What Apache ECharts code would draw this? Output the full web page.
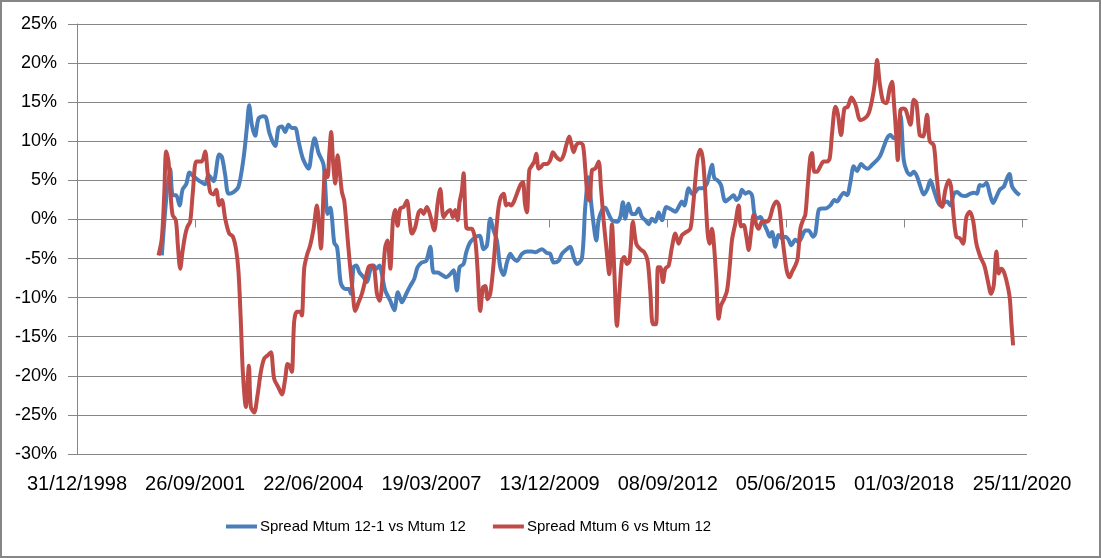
<!DOCTYPE html>
<html>
<head>
<meta charset="utf-8">
<script src="https://cdn.jsdelivr.net/npm/echarts@6/dist/echarts.min.js"></script>
<style>
  html, body { margin: 0; padding: 0; background: #fff; }
  #chart { width: 1101px; height: 558px; }
</style>
</head>
<body>
<div id="chart"></div>
<script>
// ---- data (dates as decimal years, values in %) ----
const seriesNames = ['Spread Mtum 12-1 vs Mtum 12', 'Spread Mtum 6 vs Mtum 12'];

const blueDates = [
2000.962,2001.156,2001.217,2001.295,2001.372,2001.442,2001.527,2001.604,2001.681,2001.813,
2001.967,2002.044,2002.160,2002.292,2002.354,2002.431,2002.508,2002.624,2002.740,2002.856,
2002.933,2002.987,2003.049,2003.126,2003.204,2003.320,2003.381,2003.459,2003.590,2003.667,
2003.745,2003.822,2003.899,2003.976,2004.054,2004.131,2004.231,2004.363,2004.440,2004.502,
2004.595,2004.711,2004.803,2004.865,2004.903,2004.958,2005.019,2005.058,2005.112,2005.213,
2005.290,2005.344,2005.406,2005.468,2005.545,2005.638,2005.715,2005.792,2005.869,2005.931,
2006.009,2006.063,2006.140,2006.256,2006.349,2006.434,2006.526,2006.627,2006.720,2006.812,
2006.890,2006.990,2007.090,2007.183,2007.261,2007.353,2007.431,2007.554,2007.647,2007.724,
2007.801,2007.863,2007.956,2008.018,2008.111,2008.227,2008.327,2008.420,2008.497,2008.574,
2008.650,2008.728,2008.805,2008.882,2008.959,2009.037,2009.114,2009.191,2009.307,2009.423,
2009.539,2009.616,2009.771,2009.887,2009.964,2010.041,2010.157,2010.235,2010.350,2010.428,
2010.505,2010.582,2010.698,2010.775,2010.853,2010.907,2010.969,2011.030,2011.085,2011.162,
2011.239,2011.316,2011.394,2011.510,2011.587,2011.649,2011.703,2011.780,2011.857,2011.935,
2012.012,2012.089,2012.167,2012.244,2012.321,2012.398,2012.476,2012.553,2012.653,2012.761,
2012.862,2012.939,2013.016,2013.070,2013.171,2013.248,2013.325,2013.403,2013.480,2013.596,
2013.658,2013.712,2013.766,2013.843,2013.920,2014.021,2014.121,2014.214,2014.276,2014.353,
2014.407,2014.485,2014.562,2014.639,2014.693,2014.755,2014.832,2014.910,2014.987,2015.049,
2015.103,2015.180,2015.257,2015.335,2015.412,2015.489,2015.551,2015.644,2015.721,2015.798,
2015.876,2015.953,2016.053,2016.108,2016.185,2016.262,2016.339,2016.455,2016.548,2016.610,
2016.687,2016.764,2016.841,2016.919,2016.996,2017.073,2017.166,2017.243,2017.321,2017.421,
2017.537,2017.614,2017.691,2017.769,2017.846,2017.923,2018.001,2018.078,2018.155,2018.232,
2018.310,2018.387,2018.464,2018.542,2018.619,2018.696,2018.773,2018.851,2018.928,2019.005,
2019.083,2019.160,2019.237,2019.314,2019.392,2019.484,2019.585,2019.701,2019.793,2019.855,
2019.917,2019.994,2020.072,2020.149,2020.226,2020.303,2020.381,2020.474,2020.551,2020.605,
2020.667,2020.759,2020.845
];
const blueValues = [
-4.6,6.5,3.1,3.1,1.8,3.8,4.5,6.0,5.6,5.0,
4.5,5.7,4.9,8.3,8.0,5.7,3.3,3.5,4.2,7.8,
11.7,14.6,12.1,10.7,12.9,13.2,13.0,11.0,9.4,11.7,
11.9,11.2,12.1,11.7,11.7,10.0,7.8,6.5,8.9,10.4,
8.5,7.0,0.7,1.5,0.3,-3.0,-3.5,-5.3,-8.2,-8.9,
-8.9,-9.5,-6.1,-5.9,-6.8,-7.4,-8.0,-6.5,-5.9,-6.3,
-5.9,-7.0,-9.1,-10.4,-11.6,-9.3,-10.6,-9.5,-8.5,-7.6,
-6.1,-5.5,-5.3,-3.5,-6.8,-6.8,-7.0,-7.4,-7.0,-6.5,
-9.1,-6.1,-5.7,-4.2,-2.9,-2.3,-2.1,-3.8,-3.3,0.1,
-1.4,-2.7,-6.1,-7.1,-5.5,-4.4,-5.0,-5.3,-4.4,-4.1,
-4.1,-4.2,-3.8,-4.3,-4.4,-5.5,-5.3,-4.4,-3.8,-3.5,
-4.8,-5.7,-5.0,1.6,5.4,2.4,-0.6,-2.7,-0.1,1.2,
1.5,0.7,-0.1,-0.3,0.3,2.2,0.1,2.0,0.7,0.7,
1.4,0.3,-0.1,-0.6,0.1,-0.3,0.9,-0.1,1.6,1.3,
1.0,1.6,2.3,1.8,4.0,3.3,3.5,4.0,4.0,4.6,
5.9,7.0,5.3,5.0,4.4,2.3,2.7,3.1,2.5,2.9,
3.8,3.3,3.5,3.1,0.8,0.1,0.3,-0.5,-1.4,-2.2,
-1.6,-3.5,-2.0,-2.4,-2.2,-2.6,-3.3,-2.6,-2.9,-2.2,
-1.4,-1.4,-2.2,-1.8,1.2,1.4,1.4,1.8,2.5,2.3,
2.9,3.4,3.1,4.8,6.8,6.2,7.1,6.7,6.5,7.0,
7.6,8.2,9.3,10.4,10.8,10.4,10.6,13.4,7.6,6.1,
5.7,6.1,5.5,4.2,3.2,3.8,5.0,3.8,2.5,1.8,
2.1,2.3,1.8,3.2,3.5,3.1,3.0,3.3,3.4,3.3,
4.4,4.3,4.7,3.3,2.1,2.9,3.8,4.2,5.3,5.8,
4.2,3.5,3.1
];

const redDates = [
2000.885,2000.962,2001.017,2001.063,2001.117,2001.156,2001.210,2001.287,2001.333,2001.388,
2001.442,2001.503,2001.558,2001.619,2001.681,2001.758,2001.836,2001.890,2001.967,2002.021,
2002.083,2002.160,2002.222,2002.292,2002.354,2002.431,2002.524,2002.609,2002.686,2002.740,
2002.794,2002.840,2002.910,2002.980,2003.026,2003.103,2003.180,2003.258,2003.335,2003.412,
2003.490,2003.567,2003.667,2003.745,2003.822,2003.876,2003.922,2003.976,2004.030,2004.092,
2004.170,2004.208,2004.262,2004.324,2004.401,2004.479,2004.556,2004.610,2004.649,2004.711,
2004.749,2004.803,2004.842,2004.888,2004.927,2004.981,2005.035,2005.081,2005.135,2005.189,
2005.251,2005.313,2005.383,2005.444,2005.522,2005.599,2005.676,2005.754,2005.831,2005.885,
2005.947,2006.009,2006.086,2006.140,2006.194,2006.256,2006.318,2006.372,2006.426,2006.488,
2006.565,2006.642,2006.704,2006.758,2006.835,2006.913,2006.967,2007.029,2007.106,2007.183,
2007.276,2007.353,2007.415,2007.492,2007.570,2007.647,2007.709,2007.763,2007.817,2007.863,
2007.917,2007.956,2008.018,2008.095,2008.149,2008.227,2008.281,2008.342,2008.404,2008.458,
2008.512,2008.574,2008.650,2008.712,2008.766,2008.820,2008.882,2008.944,2008.998,2009.052,
2009.114,2009.191,2009.269,2009.330,2009.377,2009.423,2009.477,2009.539,2009.593,2009.639,
2009.694,2009.748,2009.809,2009.887,2009.964,2010.026,2010.103,2010.196,2010.273,2010.335,
2010.405,2010.451,2010.505,2010.567,2010.644,2010.721,2010.775,2010.830,2010.876,2010.930,
2011.007,2011.085,2011.139,2011.201,2011.262,2011.332,2011.394,2011.448,2011.510,2011.571,
2011.626,2011.680,2011.741,2011.803,2011.880,2011.958,2012.051,2012.143,2012.221,2012.282,
2012.344,2012.414,2012.460,2012.514,2012.576,2012.630,2012.707,2012.784,2012.862,2012.939,
2013.016,2013.117,2013.210,2013.271,2013.325,2013.380,2013.441,2013.503,2013.557,2013.611,
2013.658,2013.712,2013.766,2013.812,2013.866,2013.920,2013.982,2014.060,2014.121,2014.176,
2014.253,2014.330,2014.384,2014.446,2014.508,2014.562,2014.616,2014.678,2014.740,2014.794,
2014.871,2014.971,2015.049,2015.126,2015.203,2015.265,2015.335,2015.389,2015.451,2015.512,
2015.567,2015.644,2015.698,2015.760,2015.821,2015.876,2015.930,2015.992,2016.030,2016.084,
2016.146,2016.223,2016.301,2016.378,2016.440,2016.494,2016.571,2016.625,2016.703,2016.780,
2016.857,2016.942,2017.035,2017.151,2017.267,2017.344,2017.421,2017.483,2017.537,2017.599,
2017.676,2017.753,2017.831,2017.885,2017.924,2017.978,2018.016,2018.078,2018.140,2018.202,
2018.310,2018.387,2018.449,2018.526,2018.604,2018.696,2018.758,2018.851,2018.913,2018.990,
2019.044,2019.121,2019.198,2019.252,2019.314,2019.376,2019.453,2019.531,2019.608,2019.685,
2019.762,2019.840,2019.933,2020.025,2020.103,2020.180,2020.242,2020.303,2020.358,2020.412,
2020.474,2020.551,2020.613,2020.651,2020.690
];
const redValues = [
-4.6,-2.4,3.1,8.7,7.4,4.0,0.6,-0.1,-3.3,-6.3,
-4.1,-2.0,-0.9,-0.3,3.5,7.4,7.4,7.4,8.7,6.1,
3.5,3.2,3.8,1.8,2.5,0.1,-1.8,-2.2,-3.9,-6.7,
-13.1,-19.5,-24.0,-18.7,-24.0,-24.7,-22.5,-19.5,-17.8,-17.4,
-17.0,-20.4,-21.5,-22.4,-20.4,-18.5,-18.7,-19.5,-13.1,-11.8,
-11.8,-12.3,-6.3,-4.6,-3.3,-1.2,1.8,-1.2,-3.7,3.5,
6.3,5.4,8.4,11.2,7.6,4.6,8.2,6.3,3.5,2.4,
-1.4,-5.3,-9.1,-11.7,-10.6,-9.5,-7.8,-6.1,-5.9,-6.3,
-9.5,-10.4,-7.0,-3.5,-2.7,-6.3,-0.1,1.2,-0.8,1.4,
1.6,2.4,-0.1,-1.8,-1.0,0.9,1.2,0.7,1.6,0.5,
-1.4,2.0,3.9,0.3,0.9,1.2,0.3,1.2,-0.1,2.2,
3.7,5.9,-1.0,-1.2,-1.2,-2.7,-6.5,-11.7,-8.7,-8.5,
-10.2,-9.5,-5.7,-1.4,1.6,2.9,3.3,1.8,2.0,1.8,
2.2,3.3,4.4,4.8,2.0,0.9,6.3,6.9,7.4,8.4,
6.5,6.7,7.1,7.1,7.6,8.6,8.0,7.6,8.2,9.5,
10.6,9.7,8.6,9.5,9.8,9.5,6.5,2.9,2.4,6.3,
6.5,7.4,4.1,-0.1,-3.5,-7.0,-0.6,-6.5,-13.6,-9.1,
-5.3,-4.8,-5.7,-5.3,-0.3,-3.1,-3.8,-4.2,-5.3,-9.1,
-13.4,-13.4,-6.1,-6.1,-8.0,-6.3,-5.9,-3.5,-1.8,-3.1,
-2.0,-1.6,-1.2,1.6,5.0,8.0,8.9,7.6,3.3,-1.8,
-3.1,-1.2,-3.9,-7.8,-12.7,-11.0,-10.3,-9.1,-6.1,-2.6,
-0.5,1.8,-0.9,-0.7,-2.2,-3.9,-1.8,0.6,-0.7,-1.2,
-0.3,-0.3,0.1,1.6,2.3,1.8,-1.8,-4.4,-6.7,-7.4,
-6.7,-5.9,-5.0,-1.2,-0.1,0.6,4.2,8.0,8.5,6.1,
6.1,6.8,7.4,7.4,7.8,11.0,14.4,13.6,10.8,14.2,
14.4,15.6,14.7,12.7,13.0,13.6,15.3,17.4,20.4,17.4,
15.1,14.9,16.8,17.6,15.3,11.0,7.6,14.0,14.2,14.0,
12.1,15.3,14.9,10.8,10.6,13.4,10.0,9.5,5.9,2.1,
1.6,3.8,5.0,4.2,0.3,-2.2,-2.4,-3.1,0.3,1.0,
-0.1,-3.1,-4.8,-5.9,-7.8,-9.5,-8.4,-4.1,-6.9,-6.3,
-6.7,-8.2,-10.1,-13.3,-16.1
];

// axis definition
const axisStartDate = [1998, 11, 31];   // 31/12/1998 (month 0-based)
const xTickStepDays = 1000;
const xTickDays = [0, 1000, 2000, 3000, 4000, 5000, 6000, 7000, 8000];
const xMaxDays = 8041;
const yMin = -30, yMax = 25, yStep = 5;

// ---- helpers ----
const BASE = Date.UTC(axisStartDate[0], axisStartDate[1], axisStartDate[2]);
const DAY = 86400000;
function toDays(dy) {
  const y = Math.floor(dy);
  const s = Date.UTC(y, 0, 1), e = Date.UTC(y + 1, 0, 1);
  return (s + (dy - y) * (e - s) - BASE) / DAY;
}
function fmtDate(v) {
  const d = new Date(BASE + Math.round(v) * DAY);
  const p = n => (n < 10 ? '0' : '') + n;
  return p(d.getUTCDate()) + '/' + p(d.getUTCMonth() + 1) + '/' + d.getUTCFullYear();
}
const pair = (ds, vs) => ds.map((d, i) => [toDays(d), vs[i]]);

const GRAY = '#868686';
const FONT = "'Liberation Sans', Arial, sans-serif";

const chart = echarts.init(document.getElementById('chart'), null, { renderer: 'canvas' });
chart.setOption({
  animation: false,
  backgroundColor: '#ffffff',
  grid: { left: 77, right: 74, top: 24, bottom: 104, containLabel: false },
  graphic: [{
    type: 'rect', silent: true, z: 100,
    shape: { x: 1, y: 1, width: 1099, height: 556 },
    style: { fill: 'none', stroke: GRAY, lineWidth: 2 }
  }],
  legend: {
    left: 221, top: 514,
    itemWidth: 31, itemHeight: 14, itemGap: 27,
    icon: 'path://M0,5 L31,5 L31,9 L0,9 Z',
    textStyle: { fontFamily: FONT, fontSize: 15, color: '#000', padding: [0, 0, 0, -2] },
    data: seriesNames
  },
  xAxis: [{
    type: 'value', min: 0, max: xMaxDays, interval: xTickStepDays,
    axisLine: { show: true, onZero: true, lineStyle: { color: GRAY, width: 1 } },
    axisTick: { show: true, length: 8, customValues: xTickDays, lineStyle: { color: GRAY } },
    axisLabel: { show: false },
    splitLine: { show: false }
  }, {
    type: 'value', position: 'bottom', min: 0, max: xMaxDays, interval: xTickStepDays,
    axisLine: { show: false, onZero: false },
    axisTick: { show: false },
    axisLabel: {
      show: true, margin: 20, fontSize: 20, fontFamily: FONT, color: '#000',
      customValues: xTickDays,
      formatter: v => fmtDate(v)
    },
    splitLine: { show: false }
  }],
  yAxis: {
    type: 'value', min: yMin, max: yMax, interval: yStep,
    axisLine: { show: true, lineStyle: { color: GRAY } },
    axisTick: { show: true, length: 9, lineStyle: { color: GRAY } },
    axisLabel: { margin: 20, fontSize: 18, fontFamily: FONT, color: '#000', formatter: '{value}%' },
    splitLine: { show: true, lineStyle: { color: GRAY, width: 1 } }
  },
  series: [{
    name: seriesNames[0], type: 'line', xAxisIndex: 0,
    data: pair(blueDates, blueValues),
    showSymbol: false, symbol: 'none', smooth: 0.3,
    lineStyle: { color: '#4A7EBB', width: 4 }, itemStyle: { color: '#4A7EBB' }
  }, {
    name: seriesNames[1], type: 'line', xAxisIndex: 0,
    data: pair(redDates, redValues),
    showSymbol: false, symbol: 'none', smooth: 0.3,
    lineStyle: { color: '#BE4B48', width: 4 }, itemStyle: { color: '#BE4B48' }
  }]
});
</script>
</body>
</html>
